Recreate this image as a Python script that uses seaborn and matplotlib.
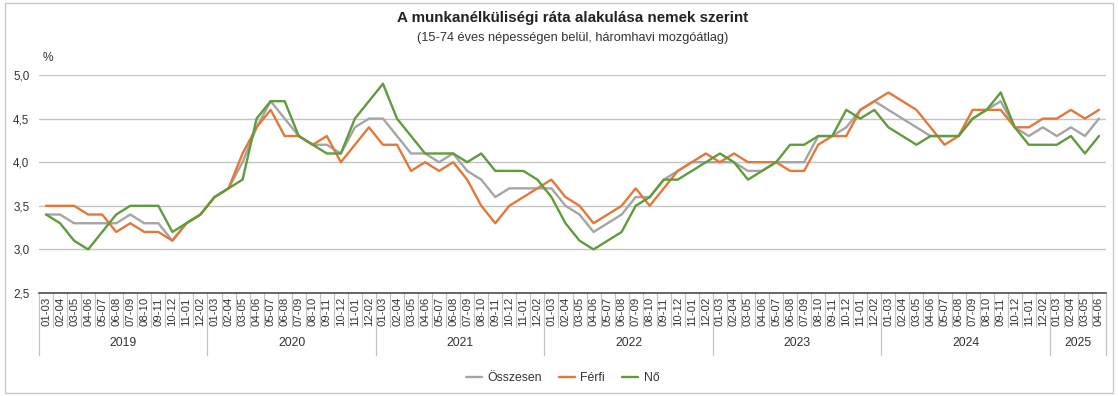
import numpy as np
import pandas as pd
import matplotlib
matplotlib.use("Agg")
import matplotlib.pyplot as plt
import matplotlib.transforms as mtransforms
from matplotlib.patches import Rectangle
import seaborn as sns

# ---------------- data ----------------
years = ["2019", "2020", "2021", "2022", "2023", "2024", "2025"]
months = ["01-03", "02-04", "03-05", "04-06", "05-07", "06-08",
          "07-09", "08-10", "09-11", "10-12", "11-01", "12-02"]
months_per_year = [12, 12, 12, 12, 12, 12, 4]

osszesen = [3.4, 3.4, 3.3, 3.3, 3.3, 3.3, 3.4, 3.3, 3.3, 3.1, 3.3, 3.4,
            3.6, 3.7, 4.0, 4.4, 4.7, 4.5, 4.3, 4.2, 4.2, 4.1, 4.4, 4.5,
            4.5, 4.3, 4.1, 4.1, 4.0, 4.1, 3.9, 3.8, 3.6, 3.7, 3.7, 3.7,
            3.7, 3.5, 3.4, 3.2, 3.3, 3.4, 3.6, 3.6, 3.8, 3.9, 4.0, 4.0,
            4.0, 4.0, 3.9, 3.9, 4.0, 4.0, 4.0, 4.3, 4.3, 4.4, 4.6, 4.7,
            4.6, 4.5, 4.4, 4.3, 4.3, 4.3, 4.5, 4.6, 4.7, 4.4, 4.3, 4.4,
            4.3, 4.4, 4.3, 4.5]
ferfi = [3.5, 3.5, 3.5, 3.4, 3.4, 3.2, 3.3, 3.2, 3.2, 3.1, 3.3, 3.4,
         3.6, 3.7, 4.1, 4.4, 4.6, 4.3, 4.3, 4.2, 4.3, 4.0, 4.2, 4.4,
         4.2, 4.2, 3.9, 4.0, 3.9, 4.0, 3.8, 3.5, 3.3, 3.5, 3.6, 3.7,
         3.8, 3.6, 3.5, 3.3, 3.4, 3.5, 3.7, 3.5, 3.7, 3.9, 4.0, 4.1,
         4.0, 4.1, 4.0, 4.0, 4.0, 3.9, 3.9, 4.2, 4.3, 4.3, 4.6, 4.7,
         4.8, 4.7, 4.6, 4.4, 4.2, 4.3, 4.6, 4.6, 4.6, 4.4, 4.4, 4.5,
         4.5, 4.6, 4.5, 4.6]
no = [3.4, 3.3, 3.1, 3.0, 3.2, 3.4, 3.5, 3.5, 3.5, 3.2, 3.3, 3.4,
      3.6, 3.7, 3.8, 4.5, 4.7, 4.7, 4.3, 4.2, 4.1, 4.1, 4.5, 4.7,
      4.9, 4.5, 4.3, 4.1, 4.1, 4.1, 4.0, 4.1, 3.9, 3.9, 3.9, 3.8,
      3.6, 3.3, 3.1, 3.0, 3.1, 3.2, 3.5, 3.6, 3.8, 3.8, 3.9, 4.0,
      4.1, 4.0, 3.8, 3.9, 4.0, 4.2, 4.2, 4.3, 4.3, 4.6, 4.5, 4.6,
      4.4, 4.3, 4.2, 4.3, 4.3, 4.3, 4.5, 4.6, 4.8, 4.4, 4.2, 4.2,
      4.2, 4.3, 4.1, 4.3]

series_names = ["Összesen", "Férfi", "Nő"]
colors = ["#A5A5A5", "#E2783A", "#5F9C3B"]

title = "A munkanélküliségi ráta alakulása nemek szerint"
subtitle = "(15-74 éves népességen belül, háromhavi mozgóátlag)"
y_ticks = [2.5, 3.0, 3.5, 4.0, 4.5, 5.0]

# ---------------- table ----------------
keys, mlabels = [], []
for y, n in zip(years, months_per_year):
    for m in months[:n]:
        keys.append(f"{y} {m}")
        mlabels.append(m)

df = pd.DataFrame({"key": keys, "Összesen": osszesen, "Férfi": ferfi, "Nő": no})
dfl = df.melt(id_vars="key", value_vars=series_names, var_name="series", value_name="value")

# ---------------- figure ----------------
sns.set_theme(style="white")
plt.rcParams["font.family"] = ["Liberation Sans", "DejaVu Sans"]

W, H = 1118, 396
fig = plt.figure(figsize=(W / 100, H / 100), dpi=100)
L, R, T, B = 39, 1106, 75, 293
ax = fig.add_axes([L / W, 1 - B / H, (R - L) / W, (B - T) / H])

sns.lineplot(data=dfl, x="key", y="value", hue="series", hue_order=series_names,
             palette=colors, linewidth=1.7, ax=ax, sort=False)

n = len(keys)
ax.set_xlim(-0.5, n - 0.5)
ax.set_ylim(2.5, 5.0)
ax.set_yticks(y_ticks)
ax.set_yticklabels([f"{v:.1f}".replace(".", ",") for v in y_ticks], fontsize=8.4, color="#333333")
ax.set_xticks(range(n))
ax.set_xticklabels(mlabels, rotation=90, fontsize=8.2, color="#333333", va="top")
ax.tick_params(axis="x", length=0, pad=3)
ax.tick_params(axis="y", length=0, pad=7)
ax.set_xlabel("")
ax.set_ylabel("")
ax.grid(axis="y", color="#C4C4C4", linewidth=1)
ax.grid(axis="x", visible=False)
for s in ["left", "right", "top"]:
    ax.spines[s].set_visible(False)
ax.spines["bottom"].set_color("#404040")
ax.spines["bottom"].set_linewidth(1.1)
ax.set_axisbelow(True)

# separators under the axis
tr = mtransforms.blended_transform_factory(ax.transData, ax.transAxes)
ah = B - T
cat_depth = -34 / ah
year_depth = -62 / ah
boundaries = np.cumsum([0] + months_per_year) - 0.5
for i in range(n + 1):
    xpos = i - 0.5
    d = year_depth if np.any(np.isclose(boundaries, xpos)) else cat_depth
    ax.plot([xpos, xpos], [0, d], transform=tr, color="#C4C4C4", lw=0.9, clip_on=False)
for k, y in enumerate(years):
    center = (boundaries[k] + boundaries[k + 1]) / 2
    ax.text(center, -50 / ah, y, transform=tr, ha="center", va="center",
            fontsize=8.8, color="#333333")

# titles
fig.text((L + R) / 2 / W, 1 - 18 / H, title, ha="center", va="center",
         fontsize=10.9, fontweight="bold", color="#222222")
fig.text((L + R) / 2 / W, 1 - 38 / H, subtitle, ha="center", va="center",
         fontsize=9.2, color="#333333")
fig.text(43 / W, 1 - 58 / H, "%", ha="left", va="center", fontsize=8.6, color="#333333")

# legend
handles, labels = ax.get_legend_handles_labels()
ax.get_legend().remove()
fig.legend(handles, labels, loc="center", bbox_to_anchor=((L + R) / 2 / W - 10 / W, 1 - 378 / H),
           ncol=3, frameon=False, fontsize=8.8, handlelength=1.3, columnspacing=1.4,
           handletextpad=0.45, labelcolor="#333333")

# outer frame
fig.patches.append(Rectangle((5 / W, 3 / H), (W - 10) / W, (H - 6) / H,
                             transform=fig.transFigure, fill=False,
                             edgecolor="#C8C8C8", linewidth=1))

fig.savefig("out.png", dpi=100)
